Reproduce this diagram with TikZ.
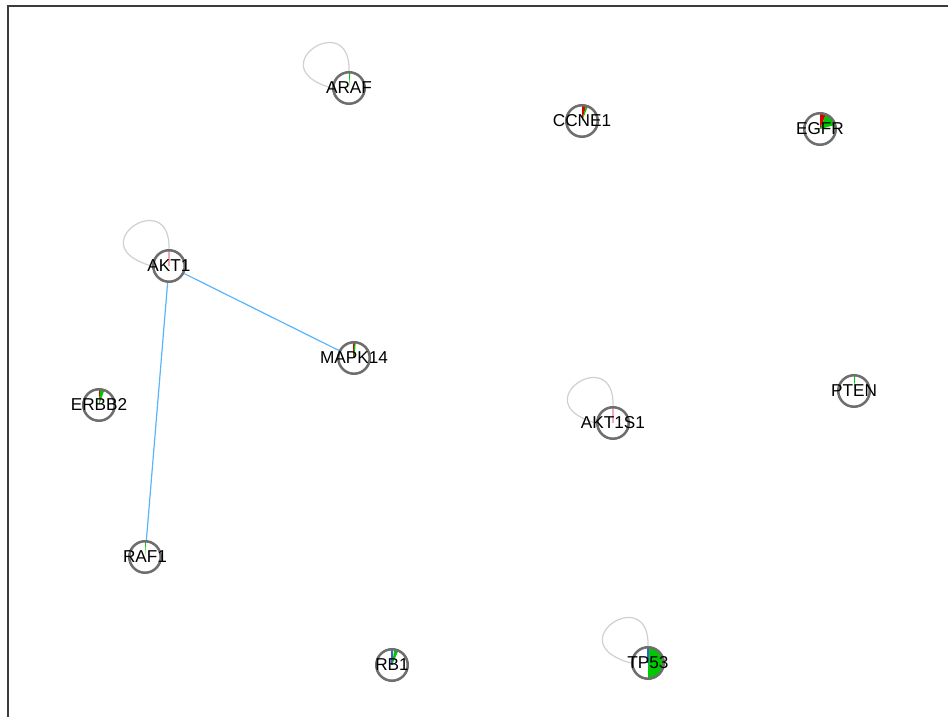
\documentclass[tikz,border=0pt]{standalone}
\usepackage{fontspec}
\setmainfont{Liberation Sans}
\definecolor{ringgray}{RGB}{110,110,110}
\definecolor{loopgray}{RGB}{208,208,208}
\definecolor{linkblue}{RGB}{90,180,250}
\definecolor{pgreen}{RGB}{0,200,0}
\definecolor{pred}{RGB}{220,0,0}
\definecolor{ppink}{RGB}{240,170,180}
\definecolor{pblue}{RGB}{60,90,230}
\definecolor{framegray}{RGB}{60,60,60}
\newcommand\pieslice[4]{\fill[#4] (#1.center) -- ++({90-#2}:15) arc[start angle={90-#2}, end angle={90-#3}, radius=15] -- cycle;}
\newcommand\pieline[3]{\draw[#3, line width=0.6pt] (#1.center) -- ++({90-#2}:15);}
\begin{document}
\begin{tikzpicture}[x=0.5pt,y=0.5pt,
  gene/.style={circle, draw=ringgray, fill=white, line width=1pt, minimum size=16pt, inner sep=0pt},
  genelabel/.style={inner sep=0pt, font=\fontsize{8.6}{10}\selectfont, text=black},
  link/.style={draw=linkblue, line width=0.6pt},
  selfloop/.style={draw=loopgray, line width=0.6pt}]
\useasboundingbox (0,0) rectangle (948,717);
% frame
\draw[framegray, line width=0.7pt] (8,0) -- (8,711) -- (948,711);
% nodes
\node[gene] (ARAF) at (349,629) {};
\node[gene] (CCNE1) at (582,596) {};
\node[gene] (EGFR) at (820,588) {};
\node[gene] (AKT1) at (169,451) {};
\node[gene] (MAPK14) at (354,359) {};
\node[gene] (ERBB2) at (99,312) {};
\node[gene] (PTEN) at (854,326) {};
\node[gene] (AKT1S1) at (613,294) {};
\node[gene] (RAF1) at (145,160) {};
\node[gene] (RB1) at (392,52) {};
\node[gene] (TP53) at (648,54) {};
% edges
\draw[link] (AKT1) -- (MAPK14);
\draw[link] (AKT1) -- (RAF1);
% self loops
\foreach \n in {ARAF,AKT1,AKT1S1,TP53}{
  \draw[selfloop] (\n.north) .. controls +(2,64) and +(-74,20) .. (\n.west);
}
% pie slices
\pieslice{ARAF}{0}{5}{pgreen}
\pieslice{CCNE1}{0}{15}{pred}
\pieslice{CCNE1}{15}{22}{pgreen}
\pieslice{EGFR}{0}{22}{pred}
\pieslice{EGFR}{22}{75}{pgreen}
\pieline{AKT1}{0}{ppink}
\pieline{MAPK14}{0}{pred}
\pieline{MAPK14}{4}{pgreen}
\pieslice{ERBB2}{0}{5}{pred}
\pieslice{ERBB2}{5}{20}{pgreen}
\pieslice{PTEN}{0}{5}{pgreen}
\pieline{AKT1S1}{0}{ppink}
\pieslice{RAF1}{0}{4}{pgreen}
\pieline{RB1}{0}{pblue}
\pieslice{RB1}{8}{24}{pgreen}
\pieslice{TP53}{0}{180}{pgreen}
\pieline{TP53}{0}{pblue}
% redraw rings over slices
\foreach \n in {ARAF,CCNE1,EGFR,AKT1,MAPK14,ERBB2,PTEN,AKT1S1,RAF1,RB1,TP53}{
  \draw[ringgray, line width=1pt] (\n.center) circle[radius=15.5];
}
% labels
\node[genelabel] (ARAF-l) at (ARAF) {ARAF};
\node[genelabel] (CCNE1-l) at (CCNE1) {CCNE1};
\node[genelabel] (EGFR-l) at (EGFR) {EGFR};
\node[genelabel] (AKT1-l) at (AKT1) {AKT1};
\node[genelabel] (MAPK14-l) at (MAPK14) {MAPK14};
\node[genelabel] (ERBB2-l) at (ERBB2) {ERBB2};
\node[genelabel] (PTEN-l) at (PTEN) {PTEN};
\node[genelabel] (AKT1S1-l) at (AKT1S1) {AKT1S1};
\node[genelabel] (RAF1-l) at (RAF1) {RAF1};
\node[genelabel] (RB1-l) at (RB1) {RB1};
\node[genelabel] (TP53-l) at (TP53) {TP53};
\end{tikzpicture}
\end{document}
